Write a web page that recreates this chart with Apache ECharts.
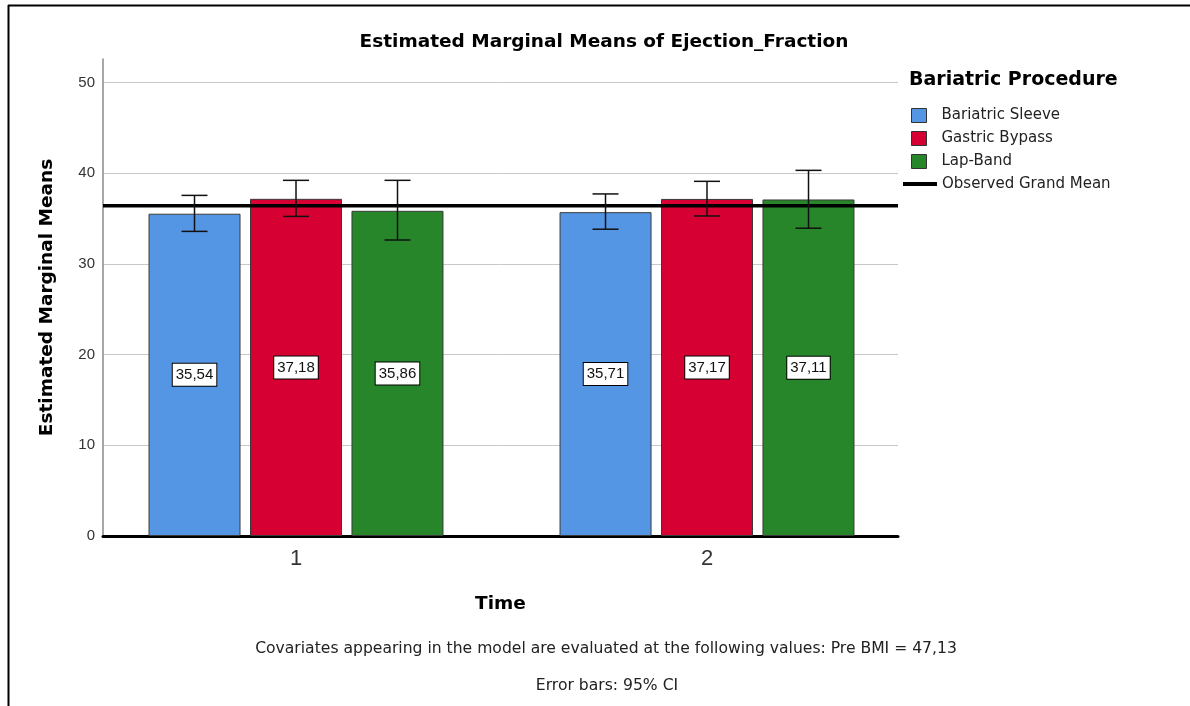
<!DOCTYPE html>
<html>
<head>
<meta charset="utf-8">
<script src="https://cdn.jsdelivr.net/npm/echarts@6/dist/echarts.min.js"></script>
<style>html,body{margin:0;padding:0;background:#fff}#c{width:1190px;height:706px}</style>
</head>
<body>
<div id="c"></div>
<script>
// ---- data ----
const timeValues = [1, 2];
const groupNames = ['Bariatric Sleeve', 'Gastric Bypass', 'Lap-Band'];
const sleeveMeans = [35.54, 35.71];
const bypassMeans = [37.18, 37.17];
const lapBandMeans = [35.86, 37.11];
const sleeveCI = [[33.59, 37.56], [33.83, 37.72]];
const bypassCI = [[35.24, 39.22], [35.29, 39.11]];
const lapBandCI = [[32.64, 39.22], [33.94, 40.32]];
const grandMean = 36.42;
const yTicks = [0, 10, 20, 30, 40, 50];

// ---- styles ----
const ARIAL = '"Liberation Sans", Arial, sans-serif';
const WIDE = '"DejaVu Sans", Verdana, sans-serif';
const colors = ['#5596e4', '#d60032', '#268629'];
const barW = 92;
const offsets = [-101.5, 0, 101.5];
const xMin = 0.5304, xMax = 2.4647;

const means = [sleeveMeans, bypassMeans, lapBandMeans];
const cis = [sleeveCI, bypassCI, lapBandCI];

const barSeries = groupNames.map((name, i) => ({
  name: name,
  type: 'bar',
  barWidth: barW,
  barGap: '10.3%',
  data: timeValues.map((t, j) => [t, means[i][j]]),
  itemStyle: { color: colors[i], borderColor: '#3a3a3a', borderWidth: 1 },
  label: {
    show: true, position: 'inside',
    formatter: p => p.value[1].toFixed(2).replace('.', ','),
    color: '#111', fontFamily: ARIAL, fontSize: 15,
    backgroundColor: '#fff', borderColor: '#000', borderWidth: 1,
    padding: [4, 3, 3, 3]
  },
  z: 2
}));

const errSeries = groupNames.map((name, i) => ({
  type: 'custom',
  name: name + ' CI',
  data: timeValues.map((t, j) => [t, cis[i][j][0], cis[i][j][1]]),
  encode: { x: 0, y: [1, 2] },
  z: 10,
  renderItem: (params, api) => {
    const lo = api.coord([api.value(0), api.value(1)]);
    const hi = api.coord([api.value(0), api.value(2)]);
    const x = lo[0] + offsets[i];
    const hw = 13;
    const st = { stroke: '#111', lineWidth: 1.5 };
    return {
      type: 'group',
      children: [
        { type: 'line', shape: { x1: x, y1: lo[1], x2: x, y2: hi[1] }, style: st },
        { type: 'line', shape: { x1: x - hw, y1: lo[1], x2: x + hw, y2: lo[1] }, style: st },
        { type: 'line', shape: { x1: x - hw, y1: hi[1], x2: x + hw, y2: hi[1] }, style: st }
      ]
    };
  }
}));

const option = {
  animation: false,
  backgroundColor: '#fff',
  title: [
    { text: 'Estimated Marginal Means of Ejection_Fraction', left: 604, top: 33, textAlign: 'center', padding: 0,
      textStyle: { fontFamily: WIDE, fontSize: 18.5, fontWeight: 'bold', color: '#000' } },
    { text: 'Bariatric Procedure', left: 909, top: 71, padding: 0,
      textStyle: { fontFamily: WIDE, fontSize: 19, fontWeight: 'bold', color: '#000' } },
    { text: 'Covariates appearing in the model are evaluated at the following values: Pre BMI = 47,13', left: 606, top: 641, textAlign: 'center', padding: 0,
      textStyle: { fontFamily: WIDE, fontSize: 15.6, fontWeight: 'normal', color: '#222' } },
    { text: 'Error bars: 95% CI', left: 607, top: 678, textAlign: 'center', padding: 0,
      textStyle: { fontFamily: WIDE, fontSize: 15.6, fontWeight: 'normal', color: '#222' } }
  ],
  legend: [
    { data: groupNames, orient: 'vertical', left: 911, top: 107, padding: 0, itemWidth: 15, itemHeight: 14, itemGap: 6,
      icon: 'rect', selectedMode: false,
      itemStyle: { borderColor: '#333', borderWidth: 1 },
      textStyle: { fontFamily: WIDE, fontSize: 15, lineHeight: 17, color: '#222', padding: [0, 0, 0, 10] } },
    { data: ['Observed Grand Mean'], orient: 'vertical', left: 903, top: 175.5, padding: 0, itemWidth: 34, itemHeight: 4,
      icon: 'rect', selectedMode: false,
      textStyle: { fontFamily: WIDE, fontSize: 15, lineHeight: 17, color: '#222' } }
  ],
  grid: { left: 103, right: 292, top: 59, bottom: 170 },
  xAxis: {
    type: 'value', min: xMin, max: xMax,
    name: 'Time', nameLocation: 'middle', nameGap: 59,
    nameTextStyle: { fontFamily: WIDE, fontSize: 18.5, fontWeight: 'bold', color: '#000' },
    axisLine: { show: true, onZero: false, lineStyle: { color: '#000', width: 3 } },
    axisTick: { show: false },
    splitLine: { show: false },
    axisLabel: { customValues: timeValues, margin: 12, fontFamily: ARIAL, fontSize: 22, color: '#333' }
  },
  yAxis: {
    type: 'value', min: 0, max: 52.6, interval: 10,
    name: 'Estimated Marginal Means', nameLocation: 'middle', nameGap: 46,
    nameTextStyle: { fontFamily: WIDE, fontSize: 18.5, fontWeight: 'bold', color: '#000' },
    axisLine: { show: true, lineStyle: { color: '#8a8a8a', width: 1.5 } },
    axisTick: { show: false },
    axisLabel: { margin: 8, fontFamily: ARIAL, fontSize: 15, color: '#333',
      formatter: v => yTicks.includes(v) ? String(v) : '', showMaxLabel: false },
    splitLine: { show: true, showMaxLine: false, lineStyle: { color: '#c8c8c8', width: 1 } }
  },
  series: [
    ...barSeries,
    {
      name: 'Observed Grand Mean', type: 'line',
      data: [[xMin, grandMean], [xMax, grandMean]],
      symbol: 'none', color: '#000',
      lineStyle: { color: '#000', width: 3.5 },
      itemStyle: { color: '#000' },
      z: 5
    },
    ...errSeries
  ],
  graphic: [
    { type: 'line', shape: { x1: 8, y1: 5.5, x2: 1190, y2: 5.5 }, style: { stroke: '#000', lineWidth: 2 } },
    { type: 'line', shape: { x1: 8.5, y1: 5, x2: 8.5, y2: 706 }, style: { stroke: '#000', lineWidth: 2 } }
  ]
};

const chart = echarts.init(document.getElementById('c'), null, { renderer: 'canvas' });
chart.setOption(option);
</script>
</body>
</html>
